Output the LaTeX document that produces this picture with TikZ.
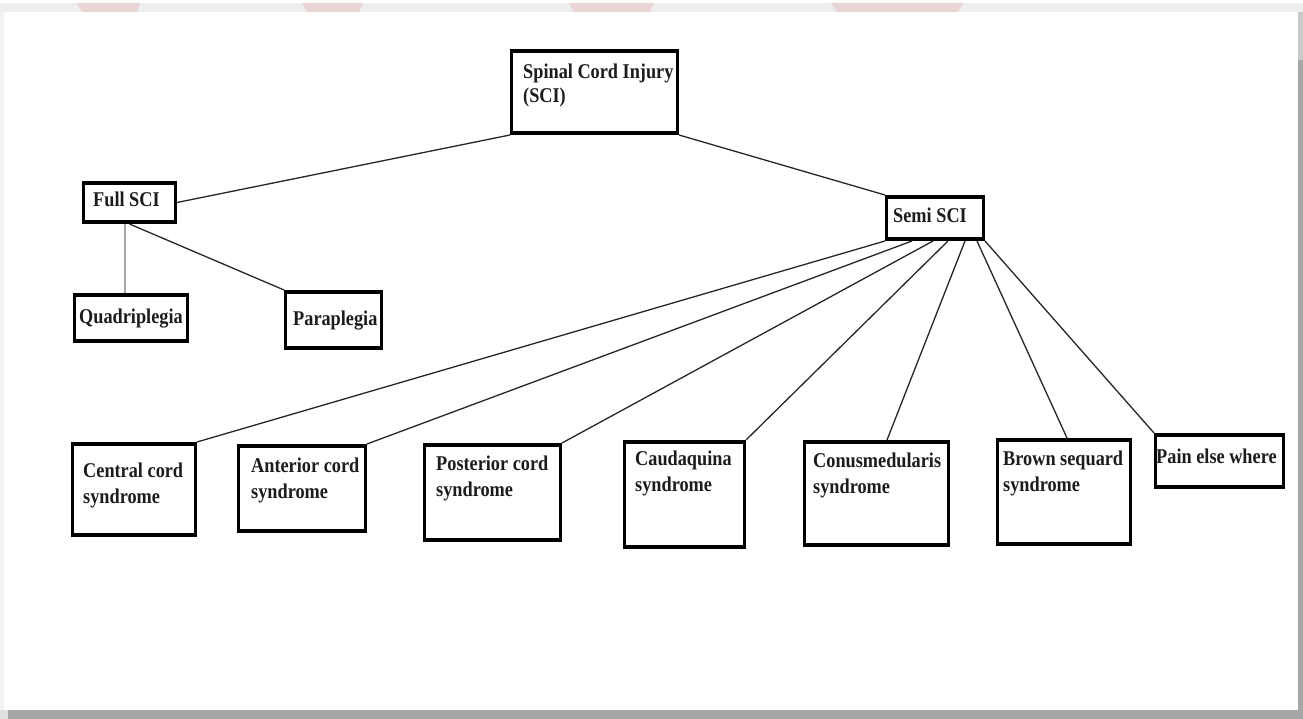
\documentclass[tikz,border=0pt]{standalone}
\usepackage{fontspec}
\setmainfont{Liberation Serif}[FakeStretch=0.87]
\usetikzlibrary{calc}
\definecolor{bandgray}{HTML}{EEEEEE}
\definecolor{leftgray}{HTML}{F3F3F3}
\definecolor{shadowgray}{HTML}{A6A6A6}
\definecolor{wmpink}{RGB}{232,214,214}
\definecolor{txt}{HTML}{1C1C1C}
\tikzset{
  sbox/.style={draw=black, line width=3pt, inner sep=0pt, fill=white},
  lbl/.style={anchor=base west, inner sep=0pt, text=txt, font=\fontsize{21}{26}\selectfont\bfseries},
  conn/.style={draw=black!85, line width=1.3pt},
  connlight/.style={draw=black!35, line width=2pt}
}
\newcommand\mkbox[9]{%
  \node[sbox, minimum width={#4-#2-3}, minimum height={#5-#3-3}] (#1) at ({(#2+#4)/2},{(#3+#5)/2}) {};
  \draw[line width=4.5pt] ([yshift=-2.2pt]#1.north west) -- ([yshift=-2.2pt]#1.north east);
  \draw[line width=4.5pt] ([yshift=2.2pt]#1.south west) -- ([yshift=2.2pt]#1.south east);
  \node[lbl] (#1-t) at (#6,#7) {\parbox[t]{#8pt}{\raggedright #9}};
}
\begin{document}
\begin{tikzpicture}[x=1pt,y=-1pt]
\useasboundingbox (0,0) rectangle (1303,719);
% page background
\fill[white] (0,0) rectangle (1303,719);
\fill[bandgray] (0,3) rectangle (1303,12);
\fill[leftgray] (0,12) rectangle (4,710);
\fill[shadowgray!60] (1298,12) rectangle (1303,60);
\fill[shadowgray] (1298,60) rectangle (1303,719);
\fill[shadowgray] (8,710) rectangle (1303,719);
\fill[black!12] (0,710) rectangle (8,719);
% watermark remnants
\fill[wmpink] (77,3) -- (140,3) -- (137,12) -- (82,12) -- cycle;
\fill[wmpink] (302,3) -- (363,3) -- (359,12) -- (307,12) -- cycle;
\fill[wmpink] (569,3) -- (654,3) -- (650,12) -- (574,12) -- cycle;
\fill[wmpink] (831,3) -- (963,3) -- (958,12) -- (837,12) -- cycle;
% boxes
\mkbox{sci}{510}{49}{679}{135}{523}{79}{155}{Spinal Cord Injury\\[-2pt](SCI)}
\mkbox{full}{82}{181}{177}{224}{93}{207}{80}{Full SCI}
\mkbox{quad}{73}{293}{189}{343}{79}{323}{110}{Quadriplegia}
\mkbox{para}{284}{290}{383}{350}{293}{325}{90}{Paraplegia}
\mkbox{semi}{885}{195}{985}{241}{893}{223}{90}{Semi SCI}
\mkbox{central}{71}{442}{197}{537}{83}{477}{112}{Central cord\\syndrome}
\mkbox{anterior}{237}{444}{367}{533}{251}{472}{114}{Anterior cord\\syndrome}
\mkbox{posterior}{423}{443}{562}{542}{436}{470}{124}{Posterior cord\\syndrome}
\mkbox{cauda}{623}{440}{746}{549}{635}{465}{108}{Caudaquina\\syndrome}
\mkbox{conus}{803}{440}{950}{547}{813}{467}{135}{Conusmedularis\\syndrome}
\mkbox{brown}{996}{438}{1132}{546}{1003}{465}{126}{Brown sequard\\syndrome}
\mkbox{pain}{1154}{433}{1285}{489}{1156}{463}{128}{Pain else where}
% connectors
\draw[conn] (full.east) -- (sci.south west);
\draw[conn] (sci.south east) -- (semi.north west);
\draw[connlight] ([xshift=-4.5pt]full.south) -- ([xshift=-6pt]quad.north);
\draw[conn] (full.south) -- (para.north west);
\draw[conn] (semi.south west) -- (central.north east);
\draw[conn] ([xshift=-23pt]semi.south) -- (anterior.north east);
\draw[conn] ([xshift=-2pt]semi.south) -- (posterior.north east);
\draw[conn] ([xshift=13pt]semi.south) -- (cauda.north east);
\draw[conn] ([xshift=30pt]semi.south) -- ([xshift=10.5pt]conus.north);
\draw[conn] ([xshift=42pt]semi.south) -- ([xshift=3pt]brown.north);
\draw[conn] (semi.south east) -- (pain.north west);
\end{tikzpicture}
\end{document}
